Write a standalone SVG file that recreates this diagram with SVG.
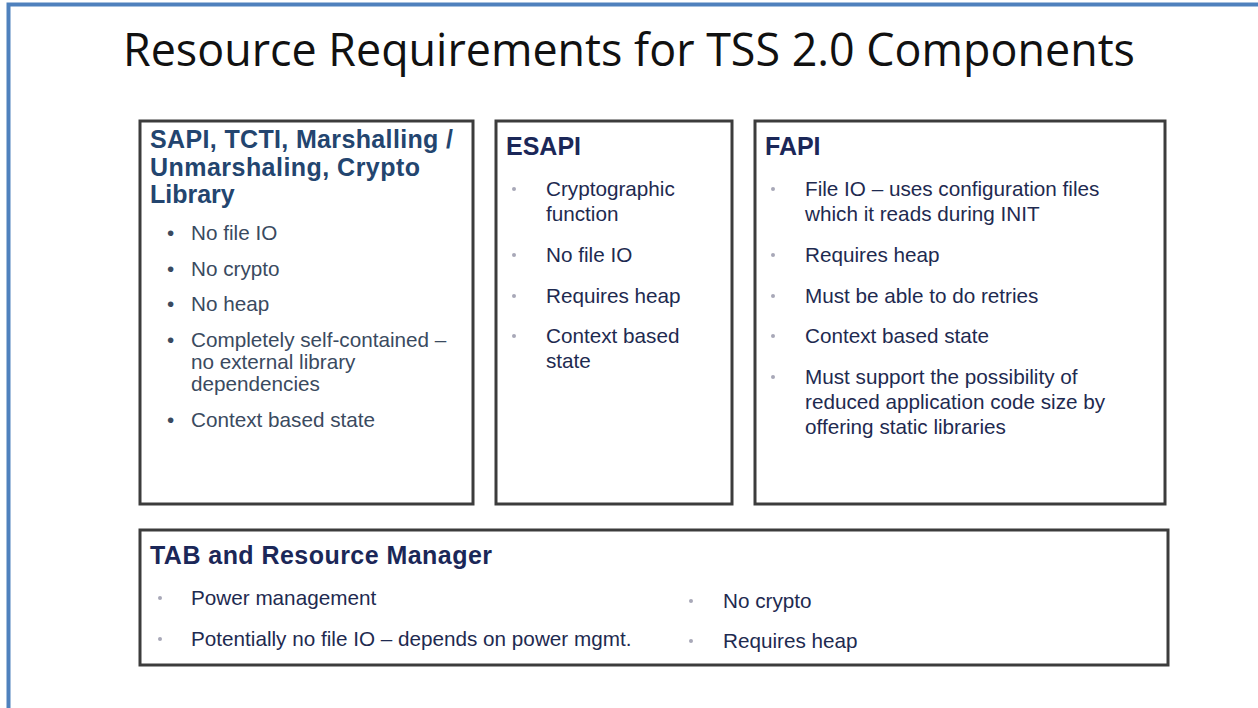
<svg xmlns="http://www.w3.org/2000/svg" width="1258" height="708" viewBox="0 0 1258 708">
<style>
.box{fill:#ffffff;stroke:#3c3c3c;stroke-width:3}
.h1{font-family:"Liberation Sans",Arial,sans-serif;font-weight:bold;font-size:25px;fill:#23456f}
.h{font-family:"Liberation Sans",Arial,sans-serif;font-weight:bold;font-size:25px;fill:#1b2758}
.t1{font-family:"Liberation Sans",Arial,sans-serif;font-size:20.7px;fill:#3a4a60}
.t{font-family:"Liberation Sans",Arial,sans-serif;font-size:20.7px;fill:#1e2a50}
.b1{font-family:"Liberation Sans",Arial,sans-serif;font-size:20.7px;fill:#3a4a60}
.d{fill:#a8a8b8}
</style>
<rect x="0" y="0" width="1258" height="708" fill="#ffffff"/>
<path d="M8.5,708 V4.5 H1258" fill="none" stroke="#4f81bd" stroke-width="4"/>
<text x="123" y="66" font-family="'Open Sans','Noto Sans',sans-serif" font-size="45" fill="#111111" textLength="1012" lengthAdjust="spacingAndGlyphs">Resource Requirements for TSS 2.0 Components</text>

<g id="sapi">
<rect class="box" x="140" y="121" width="333" height="383"/>
<text class="h1" x="150" y="148" textLength="303" lengthAdjust="spacing">SAPI, TCTI, Marshalling /</text>
<text class="h1" x="150" y="176" textLength="270" lengthAdjust="spacing">Unmarshaling, Crypto</text>
<text class="h1" x="150" y="203">Library</text>
<text class="b1" x="167" y="240">•</text><text class="t1" x="191" y="240">No file IO</text>
<text class="b1" x="167" y="276">•</text><text class="t1" x="191" y="276">No crypto</text>
<text class="b1" x="167" y="311">•</text><text class="t1" x="191" y="311">No heap</text>
<text class="b1" x="167" y="347">•</text><text class="t1" x="191" y="347">Completely self-contained –</text>
<text class="t1" x="191" y="369">no external library</text>
<text class="t1" x="191" y="391">dependencies</text>
<text class="b1" x="167" y="427">•</text><text class="t1" x="191" y="427">Context based state</text>
</g>

<g id="esapi">
<rect class="box" x="496" y="121" width="236" height="383"/>
<text class="h" x="506" y="155">ESAPI</text>
<circle class="d" cx="514" cy="189" r="2"/><text class="t" x="546" y="196">Cryptographic</text>
<text class="t" x="546" y="221">function</text>
<circle class="d" cx="514" cy="255" r="2"/><text class="t" x="546" y="262">No file IO</text>
<circle class="d" cx="514" cy="296" r="2"/><text class="t" x="546" y="303">Requires heap</text>
<circle class="d" cx="514" cy="336" r="2"/><text class="t" x="546" y="343">Context based</text>
<text class="t" x="546" y="368">state</text>
</g>

<g id="fapi">
<rect class="box" x="755" y="121" width="410" height="383"/>
<text class="h" x="765" y="155">FAPI</text>
<circle class="d" cx="773" cy="189" r="2"/><text class="t" x="805" y="196">File IO – uses configuration files</text>
<text class="t" x="805" y="221">which it reads during INIT</text>
<circle class="d" cx="773" cy="255" r="2"/><text class="t" x="805" y="262">Requires heap</text>
<circle class="d" cx="773" cy="296" r="2"/><text class="t" x="805" y="303">Must be able to do retries</text>
<circle class="d" cx="773" cy="336" r="2"/><text class="t" x="805" y="343">Context based state</text>
<circle class="d" cx="773" cy="377" r="2"/><text class="t" x="805" y="384">Must support the possibility of</text>
<text class="t" x="805" y="409">reduced application code size by</text>
<text class="t" x="805" y="434">offering static libraries</text>
</g>

<g id="tab">
<rect class="box" x="140" y="530" width="1028" height="135"/>
<text class="h" x="150" y="564" textLength="342" lengthAdjust="spacing">TAB and Resource Manager</text>
<circle class="d" cx="160" cy="598" r="2"/><text class="t" x="191" y="605">Power management</text>
<circle class="d" cx="160" cy="639" r="2"/><text class="t" x="191" y="646">Potentially no file IO – depends on power mgmt.</text>
<circle class="d" cx="691" cy="601" r="2"/><text class="t" x="723" y="608">No crypto</text>
<circle class="d" cx="691" cy="641" r="2"/><text class="t" x="723" y="648">Requires heap</text>
</g>

<g id="connectors"></g>
</svg>
